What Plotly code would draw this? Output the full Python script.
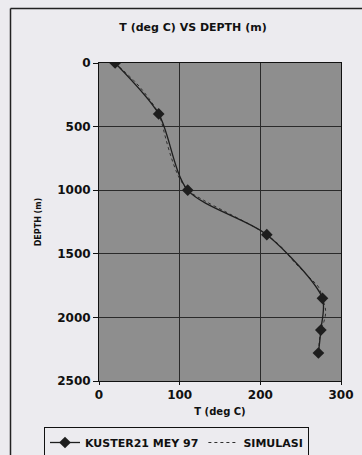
import plotly.graph_objects as go

# Measured data (KUSTER21 MEY 97)
kuster_t = [20, 74, 110, 208, 277, 275, 272]
kuster_depth = [0, 400, 1000, 1350, 1850, 2100, 2280]

# Simulation curve
sim_t = [20, 45, 62, 74, 79, 83, 90, 97, 102, 110, 130, 160, 190, 208, 225, 240, 252, 263, 272, 277, 281, 279, 275, 273, 272]
sim_depth = [0, 150, 280, 400, 500, 600, 750, 870, 930, 1000, 1080, 1180, 1280, 1350, 1440, 1550, 1630, 1700, 1760, 1850, 1950, 2030, 2100, 2200, 2280]

x_ticks = [0, 100, 200, 300]
y_ticks = [0, 500, 1000, 1500, 2000, 2500]

FONT = "DejaVu Sans, Arial, sans-serif"
PAPER = "#ecebef"
PLOT = "#8e8e8e"
INK = "#1e1e1e"

fig = go.Figure()
fig.add_trace(go.Scatter(
    x=sim_t, y=sim_depth, name="SIMULASI",
    mode="lines", line=dict(color="#2e2e2e", width=1, dash="dot", shape="spline"),
    legendrank=2,
))
fig.add_trace(go.Scatter(
    x=kuster_t, y=kuster_depth, name="KUSTER21 MEY 97",
    mode="lines+markers",
    line=dict(color=INK, width=1.3, shape="spline", smoothing=0.8),
    marker=dict(symbol="diamond", size=9, color=INK),
    legendrank=1,
))

W, H = 362, 455
L, R, T, B = 99, 341, 63, 381
pw, ph = R - L, B - T

def px(x):
    return (x - L) / pw

def py(y):
    return (B - y) / ph

fig.update_layout(
    width=W, height=H,
    margin=dict(l=L, r=W - R, t=T, b=H - B, autoexpand=False),
    paper_bgcolor=PAPER, plot_bgcolor=PLOT,
    font=dict(family=FONT, color="#111111", size=10),
    title=dict(text="<b>T (deg C) VS DEPTH (m)</b>", x=193 / W, xanchor="center",
               y=1 - 27 / H, yanchor="middle", font=dict(size=11, family=FONT)),
    xaxis=dict(range=[0, 300], tickvals=x_ticks, ticktext=[f"<b>{v}</b>" for v in x_ticks],
               showgrid=True, gridcolor="#2a2a2a", gridwidth=1, automargin=False,
               showline=True, linecolor="#111111", linewidth=1, mirror=True,
               ticks="outside", ticklen=3, tickcolor="#111111", zeroline=False,
               tickfont=dict(size=12),
               title=dict(text="<b>T (deg C)</b>", font=dict(size=10), standoff=6)),
    yaxis=dict(range=[2500, 0], tickvals=y_ticks, ticktext=[f"<b>{v}</b>" for v in y_ticks],
               showgrid=True, gridcolor="#2a2a2a", gridwidth=1, automargin=False,
               showline=True, linecolor="#111111", linewidth=1, mirror=True,
               ticks="outside", ticklen=5, tickcolor="#111111", zeroline=False,
               tickfont=dict(size=12),
               title=dict(text="<b>DEPTH (m)</b>", font=dict(size=8), standoff=14)),
    legend=dict(orientation="h",
                x=px(44), xanchor="left", y=py(427), yanchor="top",
                bordercolor="#111111", borderwidth=1, bgcolor=PAPER,
                font=dict(size=11, family=FONT, weight="bold"), tracegroupgap=0),
    showlegend=True,
)

# outer frame (left and top edges visible)
fig.add_shape(type="line", xref="paper", yref="paper",
              x0=px(10.5), x1=px(362), y0=py(8.5), y1=py(8.5),
              line=dict(color="#222222", width=1.5))
fig.add_shape(type="line", xref="paper", yref="paper",
              x0=px(10.5), x1=px(10.5), y0=py(8.5), y1=py(455),
              line=dict(color="#222222", width=1.5))

fig.write_html("out.html", config={"displayModeBar": False},
               post_script="document.body.style.margin='0';document.body.style.overflow='hidden';")
